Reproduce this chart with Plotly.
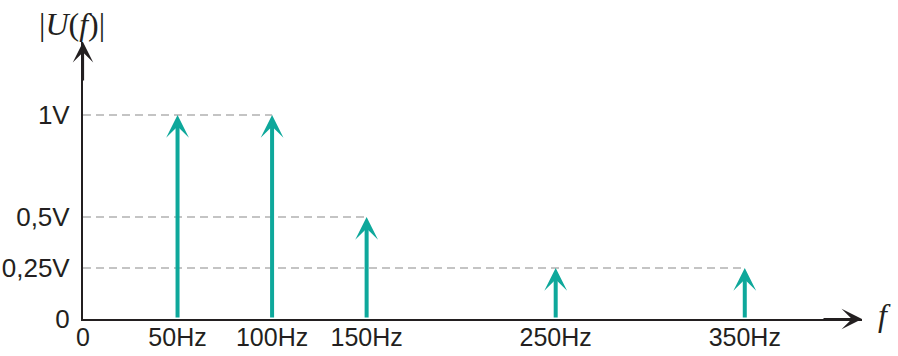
import plotly.graph_objects as go

# Data
freqs_hz = [50, 100, 150, 250, 350]
amplitudes_v = [1.0, 1.0, 0.5, 0.25, 0.25]
x_tick_vals = [0, 50, 100, 150, 250, 350]
x_tick_text = ["0", "50Hz", "100Hz", "150Hz", "250Hz", "350Hz"]
y_tick_vals = [0, 0.25, 0.5, 1.0]
y_tick_text = ["0", "0,25V", "0,5V", "1V"]

TEAL = "#0EA89B"
INK = "#231F20"
FONT = "Liberation Sans, Arial, sans-serif"

fig = go.Figure()

# dashed guide lines from y-axis to the last spike at each level
for level in sorted(set(amplitudes_v)):
    fmax = max(f for f, a in zip(freqs_hz, amplitudes_v) if a == level)
    fig.add_trace(go.Scatter(
        x=[0, fmax], y=[level, level], mode="lines",
        line=dict(color="#8A8A8A", width=1.2, dash="8px,5px"),
        hoverinfo="skip", showlegend=False))

annotations = []
for f, a in zip(freqs_hz, amplitudes_v):
    annotations.append(dict(
        x=f, y=a, ax=f, ay=0, xref="x", yref="y", axref="x", ayref="y",
        showarrow=True, arrowhead=3, arrowsize=0.95, arrowwidth=4,
        arrowcolor=TEAL, standoff=0, text=""))

# axis arrowheads
annotations.append(dict(x=1, y=0, xref="paper", yref="paper", ax=-40, ay=0,
                        showarrow=True, arrowhead=3, arrowsize=1.55, arrowwidth=2.2,
                        arrowcolor=INK, text="", standoff=0))
annotations.append(dict(x=0, y=1, xref="paper", yref="paper", ax=0, ay=40,
                        showarrow=True, arrowhead=3, arrowsize=1.55, arrowwidth=2.2,
                        arrowcolor=INK, text="", standoff=0))
# axis titles
annotations.append(dict(x=0, y=1, xref="paper", yref="paper", xanchor="center", yanchor="bottom",
                        xshift=-11, yshift=-2, showarrow=False,
                        text="|<i>U</i>(<i>f</i>)|",
                        font=dict(family="Liberation Serif, Times New Roman, serif", size=32, color=INK)))
annotations.append(dict(x=1, y=0, xref="paper", yref="paper", xanchor="left", yanchor="middle",
                        xshift=14, yshift=4, showarrow=False, text="<i>f</i>",
                        font=dict(family="Liberation Serif, Times New Roman, serif", size=32, color=INK)))

fig.update_layout(
    width=898, height=356,
    margin=dict(l=83, r=36, t=42, b=37, pad=0, autoexpand=False),
    paper_bgcolor="white", plot_bgcolor="white",
    xaxis=dict(range=[0, 412], showgrid=False, zeroline=False, showline=True,
               linecolor=INK, linewidth=2.2, ticks="", tickvals=x_tick_vals,
               ticktext=x_tick_text, ticklabelstandoff=-5,
               tickfont=dict(family=FONT, size=25, color=INK)),
    yaxis=dict(range=[0, 1.358], showgrid=False, zeroline=False, showline=True,
               linecolor=INK, linewidth=2.2, ticks="", tickvals=y_tick_vals,
               ticktext=y_tick_text, ticklabelstandoff=6,
               tickfont=dict(family=FONT, size=26, color=INK)),
    annotations=annotations,
    showlegend=False,
)

fig.write_html("out.html", config={"displayModeBar": False},
               post_script="document.body.style.margin='0';document.body.style.overflow='hidden';")
